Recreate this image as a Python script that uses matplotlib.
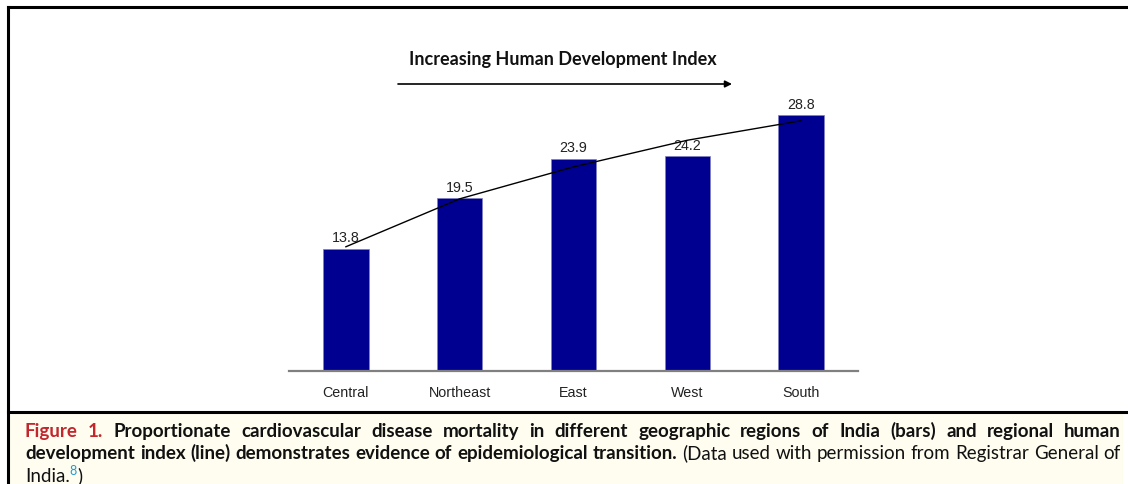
import matplotlib.pyplot as plt
from matplotlib.patches import Rectangle

regions = ['Central', 'Northeast', 'East', 'West', 'South']
cvd_mortality = [13.8, 19.5, 23.9, 24.2, 28.8]
# HDI trend line, drawn in the same units as the bars
hdi_line = [14.0, 19.4, 23.0, 26.0, 28.2]

bar_color = '#000090'
caption_red = '#C1272D'

fig = plt.figure(figsize=(11.28, 4.85), dpi=100)
W, H = 1128, 485

def fx(px):
    return px / W

def fy(py):
    return 1 - py / H

# frame and caption box
fig.patches.append(Rectangle((fx(9), 0), fx(1123) - fx(9), fy(414), transform=fig.transFigure,
                             facecolor='#FFFDF0', edgecolor='none', zorder=0))
fig.add_artist(plt.Line2D([fx(8), 1], [fy(8), fy(8)], color='black', lw=2.2))
fig.add_artist(plt.Line2D([fx(8), fx(8)], [fy(8), 0], color='black', lw=2.2))
fig.add_artist(plt.Line2D([fx(8), 1], [fy(413), fy(413)], color='black', lw=2.2))

# chart
ax = fig.add_axes([fx(289), fy(372), fx(858) - fx(289), (372 - 88) / H])
x = list(range(len(regions)))
ax.bar(x, cvd_mortality, width=0.40, color=bar_color, edgecolor='#8080c0', linewidth=0.5, zorder=2)
for xi, v in zip(x, cvd_mortality):
    ax.text(xi, v + 0.5, f'{v}', ha='center', va='bottom', fontsize=10.3,
            family='Liberation Sans', color='#222222')
ax.plot(x, hdi_line, color='black', lw=1, zorder=3)
ax.set_xlim(-0.5, 4.5)
ax.set_ylim(0, 32)
ax.set_xticks(x)
ax.set_xticklabels(regions, fontsize=10.3, family='Liberation Sans', color='#222222')
ax.tick_params(axis='x', length=0, pad=10)
ax.set_yticks([])
for s in ['top', 'left', 'right']:
    ax.spines[s].set_visible(False)
ax.spines['bottom'].set_color('#808080')
ax.spines['bottom'].set_linewidth(1.6)
ax.patch.set_alpha(0)

# arrow and title
fig.text(fx(563), fy(60), 'Increasing Human Development Index', ha='center', va='center',
         fontsize=13, weight='bold', family='Lato', color='#111111')
fig.add_artist(plt.Annotation('', xy=(fx(732), fy(85)), xytext=(fx(398), fy(85)),
                              xycoords='figure fraction', textcoords='figure fraction',
                              arrowprops=dict(arrowstyle='-|>', color='black', lw=1.2,
                                              mutation_scale=10, shrinkA=0, shrinkB=0)))

# caption, justified lines
cap_font = 'Lato'
cap_size = 13.5
line1 = [('Figure', 'bold', caption_red), ('1.', 'bold', caption_red)] + \
    [(w, 'bold', '#111111') for w in 'Proportionate cardiovascular disease mortality in different geographic regions of India (bars) and regional human'.split()]
line2 = [(w, 'bold', '#111111') for w in 'development index (line) demonstrates evidence of epidemiological transition.'.split()] + \
    [(w, 'normal', '#111111') for w in '(Data used with permission from Registrar General of'.split()]

renderer = fig.canvas.get_renderer()
left_px, right_px = 25, 1121

def justify(words, ypx):
    texts = []
    widths = []
    for w, wt, c in words:
        t = fig.text(0, fy(ypx), w, ha='left', va='baseline', fontsize=cap_size,
                     weight=wt, color=c, family=cap_font)
        texts.append(t)
        widths.append(t.get_window_extent(renderer).width)
    gap = (right_px - left_px - sum(widths)) / (len(words) - 1)
    pos = left_px
    for t, w in zip(texts, widths):
        t.set_x(fx(pos))
        pos += w + gap

justify(line1, 437)
justify(line2, 459)
t = fig.text(fx(left_px), fy(482), 'India.', ha='left', va='baseline', fontsize=cap_size,
             family=cap_font, color='#111111')
w = t.get_window_extent(renderer).width
t2 = fig.text(fx(left_px + w), fy(475), '8', ha='left', va='baseline', fontsize=9,
              family=cap_font, color='#1A9BD7')
w2 = t2.get_window_extent(renderer).width
fig.text(fx(left_px + w + w2 + 0.5), fy(482), ')', ha='left', va='baseline', fontsize=cap_size,
         family=cap_font, color='#111111')

plt.savefig('out.png', dpi=100)
